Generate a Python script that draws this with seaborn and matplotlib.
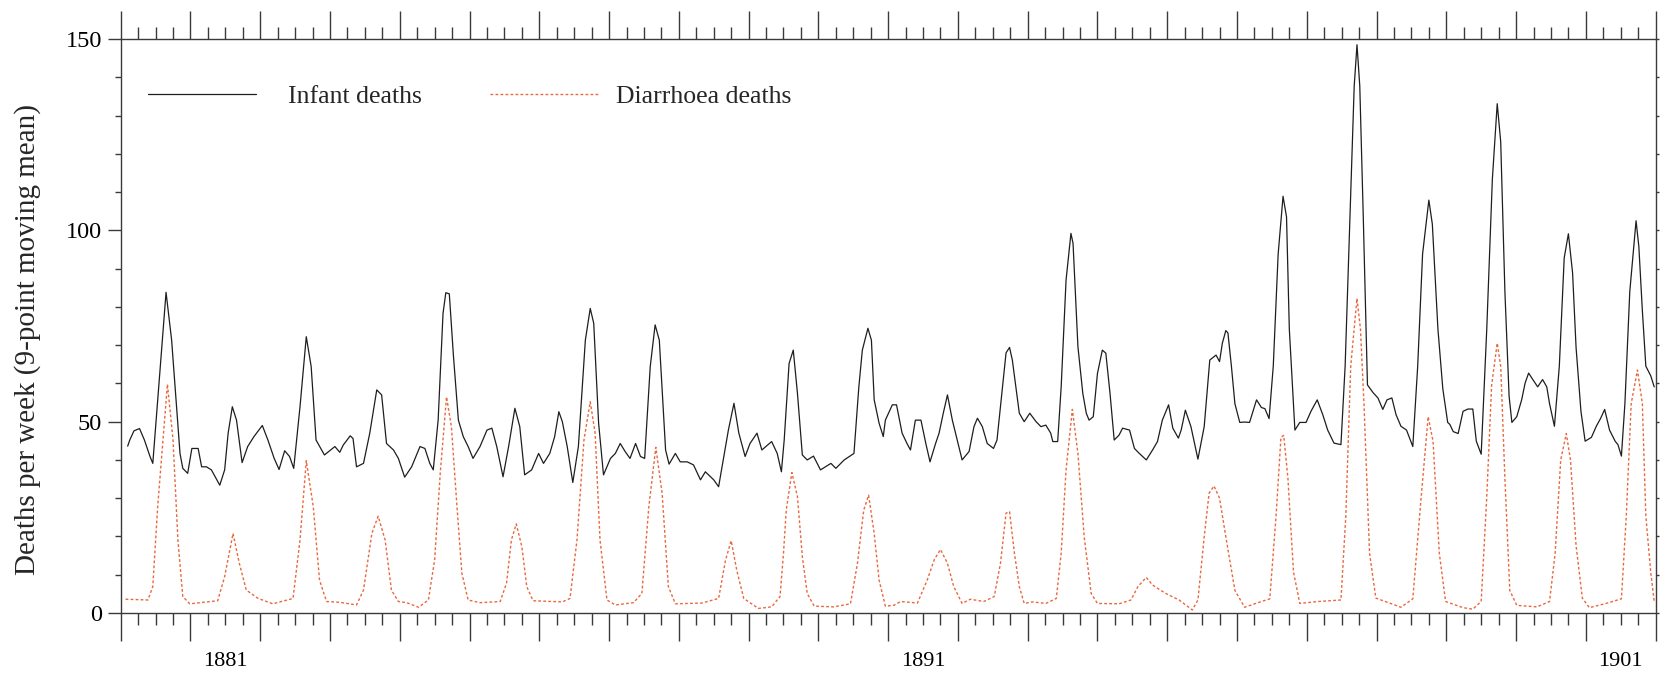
import numpy as np
import pandas as pd
import matplotlib
matplotlib.use("Agg")
import matplotlib.pyplot as plt
from matplotlib.lines import Line2D
import seaborn as sns

# ---------------- data ----------------
infant_year = [
    1880.10, 1880.13, 1880.19, 1880.27, 1880.34, 1880.42, 1880.46, 1880.56, 1880.65, 1880.73,
    1880.80, 1880.85, 1880.89, 1880.96, 1881.02, 1881.11, 1881.16, 1881.23, 1881.30, 1881.42,
    1881.49, 1881.54, 1881.60, 1881.66, 1881.74, 1881.82, 1881.91, 1882.03, 1882.11, 1882.20,
    1882.27, 1882.35, 1882.42, 1882.48, 1882.57, 1882.66, 1882.73, 1882.80, 1882.92, 1883.07,
    1883.14, 1883.19, 1883.29, 1883.33, 1883.38, 1883.48, 1883.57, 1883.67, 1883.74, 1883.81,
    1883.91, 1883.98, 1884.07, 1884.17, 1884.29, 1884.36, 1884.43, 1884.48, 1884.55, 1884.62,
    1884.66, 1884.71, 1884.77, 1884.84, 1884.91, 1884.98, 1885.05, 1885.15, 1885.25, 1885.32,
    1885.39, 1885.48, 1885.56, 1885.65, 1885.72, 1885.79, 1885.89, 1885.99, 1886.06, 1886.15,
    1886.22, 1886.28, 1886.33, 1886.40, 1886.48, 1886.56, 1886.66, 1886.73, 1886.78, 1886.85,
    1886.92, 1887.02, 1887.09, 1887.16, 1887.23, 1887.30, 1887.38, 1887.45, 1887.51, 1887.59,
    1887.66, 1887.72, 1887.81, 1887.86, 1887.95, 1888.02, 1888.12, 1888.21, 1888.31, 1888.38,
    1888.50, 1888.57, 1888.67, 1888.71, 1888.79, 1888.86, 1888.95, 1889.02, 1889.12, 1889.19,
    1889.33, 1889.41, 1889.47, 1889.51, 1889.58, 1889.64, 1889.70, 1889.77, 1889.84, 1889.93,
    1890.03, 1890.18, 1890.25, 1890.37, 1890.51, 1890.58, 1890.63, 1890.71, 1890.76, 1890.80,
    1890.87, 1890.93, 1890.96, 1891.06, 1891.12, 1891.20, 1891.27, 1891.32, 1891.39, 1891.47,
    1891.54, 1891.60, 1891.68, 1891.73, 1891.79, 1891.85, 1891.92, 1891.99, 1892.06, 1892.16,
    1892.23, 1892.28, 1892.35, 1892.42, 1892.51, 1892.56, 1892.64, 1892.69, 1892.74, 1892.78,
    1892.83, 1892.88, 1892.95, 1893.03, 1893.12, 1893.19, 1893.26, 1893.33, 1893.36, 1893.43,
    1893.48, 1893.55, 1893.62, 1893.65, 1893.72, 1893.79, 1893.84, 1893.88, 1893.94, 1894.00,
    1894.07, 1894.12, 1894.18, 1894.24, 1894.31, 1894.36, 1894.46, 1894.53, 1894.60, 1894.70,
    1894.79, 1894.86, 1894.93, 1895.02, 1895.08, 1895.16, 1895.20, 1895.26, 1895.34, 1895.44,
    1895.53, 1895.61, 1895.70, 1895.75, 1895.79, 1895.84, 1895.87, 1895.92, 1895.97, 1896.04,
    1896.11, 1896.18, 1896.28, 1896.35, 1896.40, 1896.46, 1896.52, 1896.59, 1896.66, 1896.71,
    1896.75, 1896.83, 1896.90, 1896.99, 1897.06, 1897.15, 1897.23, 1897.30, 1897.39, 1897.49,
    1897.55, 1897.62, 1897.68, 1897.72, 1897.76, 1897.81, 1897.87, 1897.95, 1898.02, 1898.09,
    1898.15, 1898.22, 1898.28, 1898.35, 1898.43, 1898.52, 1898.59, 1898.66, 1898.75, 1898.80,
    1898.88, 1898.95, 1899.02, 1899.05, 1899.10, 1899.17, 1899.24, 1899.31, 1899.38, 1899.43,
    1899.50, 1899.58, 1899.66, 1899.73, 1899.78, 1899.84, 1899.90, 1899.94, 1900.01, 1900.08,
    1900.13, 1900.18, 1900.24, 1900.31, 1900.38, 1900.44, 1900.48, 1900.55, 1900.62, 1900.69,
    1900.75, 1900.81, 1900.86, 1900.93, 1900.99, 1901.08, 1901.15, 1901.21, 1901.27, 1901.34,
    1901.42, 1901.46, 1901.51, 1901.56, 1901.63, 1901.72, 1901.76, 1901.81, 1901.86, 1901.93,
    1901.98,
]
infant_deaths = [
    43.6, 45.2, 47.6, 48.2, 45.2, 40.9, 39.1, 62.6, 83.8, 71.3,
    53.9, 41.7, 37.8, 36.5, 43.0, 43.0, 38.2, 38.2, 37.4, 33.4,
    37.4, 47.0, 53.9, 50.4, 39.3, 43.5, 46.1, 49.0, 45.2, 40.4,
    37.5, 42.4, 40.9, 37.8, 53.9, 72.2, 64.4, 45.2, 41.3, 43.5,
    42.0, 43.9, 46.3, 45.6, 38.2, 39.1, 47.0, 58.3, 57.0, 44.3,
    42.6, 40.4, 35.5, 38.2, 43.5, 43.0, 39.1, 37.4, 50.4, 78.3,
    83.7, 83.4, 67.0, 50.4, 46.1, 43.5, 40.4, 43.5, 47.8, 48.3,
    43.5, 35.6, 43.5, 53.5, 48.7, 36.1, 37.4, 41.7, 39.1, 41.7,
    46.1, 52.6, 50.0, 43.5, 34.1, 43.5, 71.3, 79.6, 75.7, 49.6,
    36.1, 40.4, 41.7, 44.3, 42.2, 40.4, 44.3, 40.9, 40.4, 64.4,
    75.3, 71.3, 42.6, 38.9, 41.7, 39.5, 39.5, 38.7, 34.8, 36.9,
    34.8, 33.0, 43.5, 47.8, 54.8, 47.0, 40.9, 44.3, 47.0, 42.6,
    44.8, 41.7, 36.9, 45.2, 65.2, 68.7, 57.4, 41.3, 40.0, 41.0,
    37.4, 39.1, 37.8, 40.0, 41.7, 59.1, 68.7, 74.4, 71.3, 55.7,
    49.6, 46.1, 50.4, 54.4, 54.4, 47.0, 44.3, 42.6, 50.4, 50.4,
    44.3, 39.5, 44.3, 47.0, 52.2, 57.0, 50.4, 45.2, 40.0, 42.2,
    48.7, 50.9, 48.7, 44.3, 43.0, 45.2, 59.1, 68.0, 69.4, 66.1,
    59.1, 52.2, 50.0, 52.2, 50.0, 48.7, 49.1, 47.0, 44.8, 44.8,
    59.1, 87.0, 99.2, 96.6, 69.6, 57.4, 52.2, 50.4, 51.3, 62.6,
    68.7, 67.9, 57.4, 45.2, 46.5, 48.3, 47.8, 43.0, 41.7, 40.0,
    42.6, 44.8, 50.4, 54.4, 48.3, 45.7, 47.8, 53.0, 48.7, 40.2,
    48.7, 66.1, 67.4, 65.7, 70.5, 73.8, 73.2, 64.5, 54.7, 49.8,
    49.9, 49.8, 55.7, 53.7, 53.4, 50.8, 64.5, 93.8, 108.9, 103.5,
    74.2, 47.8, 49.8, 49.8, 52.7, 55.7, 51.8, 47.8, 44.4, 44.0,
    64.5, 103.5, 137.7, 148.5, 137.7, 103.5, 59.6, 57.6, 56.2, 53.2,
    55.7, 56.2, 51.8, 48.8, 47.8, 43.5, 64.5, 93.8, 107.9, 101.6,
    74.2, 58.6, 49.8, 49.3, 47.4, 46.9, 52.7, 53.3, 53.3, 44.9,
    41.5, 74.2, 113.3, 133.1, 123.1, 84.0, 56.7, 49.8, 51.3, 55.7,
    60.1, 62.7, 61.0, 59.1, 61.0, 59.1, 54.7, 48.8, 64.5, 92.8,
    99.1, 88.9, 69.4, 52.7, 44.9, 45.9, 48.8, 50.8, 53.2, 47.8,
    44.9, 44.0, 41.0, 54.7, 84.0, 102.5, 95.7, 79.1, 64.5, 62.0,
    59.1,
]

diarrhoea_year = [
    1880.07, 1880.39, 1880.46, 1880.53, 1880.67, 1880.75, 1880.82, 1880.89, 1880.99, 1881.39,
    1881.49, 1881.61, 1881.70, 1881.80, 1881.97, 1882.18, 1882.47, 1882.57, 1882.66, 1882.76,
    1882.85, 1882.95, 1883.14, 1883.38, 1883.48, 1883.60, 1883.69, 1883.79, 1883.88, 1883.98,
    1884.10, 1884.27, 1884.41, 1884.50, 1884.58, 1884.67, 1884.74, 1884.82, 1884.89, 1884.98,
    1885.15, 1885.44, 1885.53, 1885.60, 1885.67, 1885.75, 1885.82, 1885.91, 1886.33, 1886.44,
    1886.54, 1886.64, 1886.73, 1886.80, 1886.87, 1886.97, 1887.09, 1887.35, 1887.47, 1887.57,
    1887.67, 1887.76, 1887.85, 1887.95, 1888.33, 1888.57, 1888.67, 1888.75, 1888.83, 1888.93,
    1889.14, 1889.33, 1889.45, 1889.50, 1889.54, 1889.62, 1889.70, 1889.77, 1889.84, 1889.94,
    1890.22, 1890.46, 1890.56, 1890.65, 1890.72, 1890.80, 1890.87, 1890.96, 1891.08, 1891.18,
    1891.42, 1891.56, 1891.66, 1891.75, 1891.85, 1891.94, 1892.06, 1892.18, 1892.37, 1892.52,
    1892.61, 1892.69, 1892.74, 1892.81, 1892.88, 1892.95, 1893.07, 1893.26, 1893.41, 1893.48,
    1893.55, 1893.64, 1893.72, 1893.81, 1893.91, 1894.00, 1894.31, 1894.48, 1894.58, 1894.70,
    1894.79, 1894.98, 1895.17, 1895.36, 1895.44, 1895.53, 1895.60, 1895.67, 1895.75, 1895.84,
    1895.88, 1895.97, 1896.11, 1896.35, 1896.47, 1896.56, 1896.63, 1896.67, 1896.73, 1896.81,
    1896.90, 1897.16, 1897.49, 1897.56, 1897.63, 1897.72, 1897.77, 1897.82, 1897.90, 1897.99,
    1898.35, 1898.52, 1898.64, 1898.74, 1898.81, 1898.90, 1898.99, 1899.24, 1899.38, 1899.50,
    1899.58, 1899.65, 1899.73, 1899.78, 1899.84, 1899.91, 1900.01, 1900.30, 1900.48, 1900.56,
    1900.64, 1900.72, 1900.78, 1900.86, 1900.95, 1901.05, 1901.29, 1901.51, 1901.58, 1901.65,
    1901.74, 1901.81, 1901.86, 1901.93, 1901.98,
]
diarrhoea_deaths = [
    3.6, 3.4, 6.9, 27.8, 59.8, 45.2, 19.1, 4.3, 2.4, 3.2,
    9.5, 20.8, 13.0, 6.0, 3.8, 2.4, 3.8, 19.1, 39.8, 27.8,
    8.6, 3.0, 2.8, 2.1, 6.0, 20.8, 25.3, 19.1, 6.0, 3.0,
    2.7, 1.5, 3.4, 13.9, 36.5, 56.5, 48.7, 27.8, 10.4, 3.4,
    2.7, 3.0, 7.8, 19.1, 23.3, 17.3, 6.9, 3.2, 2.9, 3.8,
    19.1, 45.2, 55.2, 47.0, 19.1, 3.4, 2.1, 2.7, 5.1, 27.8,
    43.3, 31.3, 6.9, 2.4, 2.6, 3.8, 13.9, 18.9, 11.2, 3.8,
    1.2, 1.6, 4.3, 15.6, 27.0, 36.7, 30.4, 14.7, 5.1, 1.8,
    1.6, 2.4, 13.0, 26.9, 30.8, 20.8, 8.6, 1.8, 2.0, 3.0,
    2.6, 8.6, 13.9, 16.6, 13.0, 6.9, 2.5, 3.6, 3.0, 4.3,
    13.0, 26.1, 26.5, 15.6, 6.9, 2.5, 2.9, 2.5, 3.8, 15.6,
    37.4, 53.2, 41.7, 19.9, 5.1, 2.5, 2.4, 3.4, 6.9, 9.3,
    7.3, 5.1, 3.4, 0.8, 3.4, 19.9, 31.3, 33.2, 30.0, 19.9,
    15.6, 5.9, 1.5, 3.0, 3.7, 25.4, 45.9, 46.4, 35.2, 10.7,
    2.5, 3.0, 3.4, 25.4, 64.5, 82.2, 74.2, 54.7, 15.6, 3.9,
    1.5, 3.7, 30.3, 51.3, 44.9, 15.6, 3.0, 1.4, 1.0, 3.0,
    30.3, 59.6, 70.5, 64.5, 35.2, 5.9, 2.0, 1.6, 3.0, 15.6,
    40.0, 46.9, 40.0, 17.6, 3.9, 1.4, 2.5, 3.7, 25.4, 54.7,
    63.5, 54.7, 25.4, 10.7, 3.0,
]

series_names = ["Infant deaths", "Diarrhoea deaths"]
year_labels = ["1881", "1891", "1901"]
year_label_pos = [1881.5, 1891.5, 1901.5]
y_major = [0, 50, 100, 150]

# ---------------- style ----------------
sns.set_style("ticks")
plt.rcParams["font.family"] = ["Liberation Serif", "DejaVu Serif"]
plt.rcParams["axes.edgecolor"] = "#3a3a3a"
plt.rcParams["axes.linewidth"] = 1.0
plt.rcParams["xtick.color"] = "#3a3a3a"
plt.rcParams["ytick.color"] = "#3a3a3a"
plt.rcParams["xtick.labelcolor"] = "black"
plt.rcParams["ytick.labelcolor"] = "black"

INK = "#1e1e1e"
RED = "#e8683f"

fig = plt.figure(figsize=(16.6, 6.74), dpi=100)
W, H = 1660, 674
x0, x1, yb, yt = 120.7, 1655.6, 613, 39
ax = fig.add_axes([x0 / W, 1 - yb / H, (x1 - x0) / W, (yb - yt) / H])

df_inf = pd.DataFrame({"year": infant_year, "deaths": infant_deaths})
df_dia = pd.DataFrame({"year": diarrhoea_year, "deaths": diarrhoea_deaths})

sns.lineplot(data=df_inf, x="year", y="deaths", ax=ax, color=INK, lw=0.9,
             estimator=None, sort=True)
sns.lineplot(data=df_dia, x="year", y="deaths", ax=ax, color=RED, lw=1.0,
             estimator=None, sort=True)
ax.lines[-1].set_dashes((2.0, 1.6))

ax.set_xlim(1880, 1902)
ax.set_ylim(0, 150)
for s in ["top", "right", "left", "bottom"]:
    ax.spines[s].set_visible(True)

# x ticks: major at year boundaries, minor at quarters; top and bottom, outward
ax.set_xticks(np.arange(1880, 1903, 1))
ax.set_xticks(np.arange(1880, 1902.001, 0.25), minor=True)
ax.tick_params(axis="x", which="major", direction="out", length=20, width=1.0,
               top=True, bottom=True, labelbottom=False, labeltop=False)
ax.tick_params(axis="x", which="minor", direction="out", length=8.5, width=1.0,
               top=True, bottom=True)

# y ticks on left
ax.set_yticks(y_major)
ax.set_yticks(np.arange(0, 151, 10), minor=True)
ax.tick_params(axis="y", which="major", direction="out", length=9.5, width=1.0,
               labelsize=17.5, pad=4, left=True, right=False)
ax.tick_params(axis="y", which="minor", direction="out", length=4.5, width=1.0,
               left=True, right=False)

# small ticks on the right spine
secy = ax.secondary_yaxis("right")
secy.set_yticks(np.arange(0, 151, 10))
secy.tick_params(axis="y", direction="out", length=2.5, width=1.0, labelright=False)
secy.spines["right"].set_visible(False)

# year labels centred in their year
secx = ax.secondary_xaxis("bottom")
secx.set_xticks(year_label_pos, labels=year_labels)
secx.tick_params(axis="x", length=0, pad=28, labelsize=16)
secx.spines["bottom"].set_visible(False)

ax.set_xlabel("")
ax.set_ylabel("Deaths per week (9-point moving mean)", fontsize=21)
ax.yaxis.set_label_coords(-0.052, 0.476)

# legend: two entries placed as in the reference
span = x1 - x0
ly = (yb - 97) / (yb - yt)
leg1 = ax.legend([Line2D([], [], color=INK, lw=0.9)], [series_names[0]],
                 loc="center left", bbox_to_anchor=((148 - x0) / span, ly),
                 frameon=False, fontsize=18.5, handlelength=4.2,
                 handletextpad=1.25, borderpad=0, borderaxespad=0)
ax.add_artist(leg1)
ax.legend([Line2D([], [], color=RED, lw=1.0, dashes=(2.0, 1.6))], [series_names[1]],
          loc="center left", bbox_to_anchor=((490 - x0) / span, ly),
          frameon=False, fontsize=18.5, handlelength=4.2,
          handletextpad=0.7, borderpad=0, borderaxespad=0)

fig.savefig("out.png", dpi=100)
